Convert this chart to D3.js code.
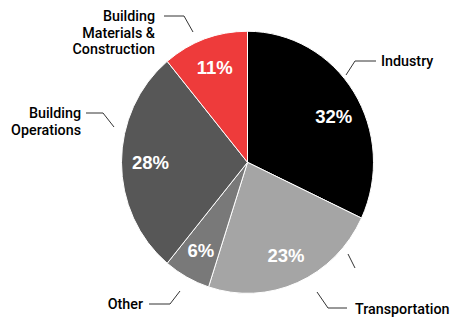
<!DOCTYPE html>
<html>
<head>
<meta charset="utf-8">
<script src="https://cdn.jsdelivr.net/npm/d3@7"></script>
<style>
  html, body { margin: 0; padding: 0; background: #fff; }
  svg { display: block; }
</style>
</head>
<body>
<svg id="chart" width="452" height="317"></svg>
<script>
// ---- data ----
const categories = ["Industry", "Transportation", "Other", "Building Operations", "Building Materials & Construction"];
const values = [32, 23, 6, 28, 11];
const valueLabels = ["32%", "23%", "6%", "28%", "11%"];
const colors = ["#000000", "#a5a5a5", "#797979", "#575757", "#ee3b3b"];

// ---- layout ----
const svg = d3.select("#chart");
const cx = 247.5, cy = 162.3, r = 126, yStretch = 1.04;

const pie = d3.pie().sort(null).value(d => d.value);
const data = categories.map((c, i) => ({ name: c, value: values[i], label: valueLabels[i], color: colors[i] }));
const arcs = pie(data);
const arc = d3.arc().innerRadius(0).outerRadius(r);

const g = svg.append("g").attr("transform", `translate(${cx},${cy}) scale(1,${yStretch})`);
g.selectAll("path").data(arcs).join("path")
  .attr("d", arc)
  .attr("fill", d => d.data.color)
  .attr("stroke", "#ffffff")
  .attr("stroke-width", 1)
  .attr("vector-effect", "non-scaling-stroke");

// label angle nudges (radians) for readability
const nudge = { "Industry": 0.09 };
svg.selectAll("text.val").data(arcs).join("text")
  .attr("class", "val")
  .attr("x", d => {
    const a = (d.startAngle + d.endAngle) / 2 + (nudge[d.data.name] || 0);
    return cx + 97 * Math.sin(a);
  })
  .attr("y", d => {
    const a = (d.startAngle + d.endAngle) / 2 + (nudge[d.data.name] || 0);
    return cy - 97 * Math.cos(a) * yStretch;
  })
  .attr("dy", "0.36em")
  .attr("text-anchor", "middle")
  .attr("fill", "#ffffff")
  .attr("font-family", "'Liberation Sans', Arial, sans-serif")
  .attr("font-weight", "bold")
  .attr("font-size", 18.5)
  .text(d => d.data.label);

// ---- outer labels & leader lines ----
const leaderColor = "#333";
const leaders = [
  [[346, 75], [355, 61], [376, 61]],
  [[317, 292], [328, 308], [347, 308]],
  [[348, 254], [355, 268]],
  [[180, 291], [170, 304], [149, 304]],
  [[114, 127], [103, 113], [86, 113]],
  [[193, 32], [184, 16], [164, 16]]
];
svg.selectAll("path.leader").data(leaders).join("path")
  .attr("class", "leader")
  .attr("d", d3.line())
  .attr("fill", "none")
  .attr("stroke", leaderColor)
  .attr("stroke-width", 1);

const outer = [
  { lines: ["Industry"], x: 381, y: 66, anchor: "start" },
  { lines: ["Transportation"], x: 355, y: 314, anchor: "start" },
  { lines: ["Other"], x: 143, y: 309, anchor: "end" },
  { lines: ["Building", "Operations"], x: 81, y: 118, anchor: "end" },
  { lines: ["Building", "Materials &", "Construction"], x: 155, y: 21, anchor: "end" }
];
outer.forEach(o => {
  const t = svg.append("text")
    .attr("x", o.x).attr("y", o.y)
    .attr("text-anchor", o.anchor)
    .attr("fill", "#000")
    .attr("font-family", "Roboto, 'Liberation Sans', sans-serif")
    .attr("font-weight", 500)
    .attr("font-size", 14.3);
  o.lines.forEach((l, i) => {
    t.append("tspan").attr("x", o.x).attr("dy", i === 0 ? 0 : 16.5).text(l);
  });
});
</script>
</body>
</html>
